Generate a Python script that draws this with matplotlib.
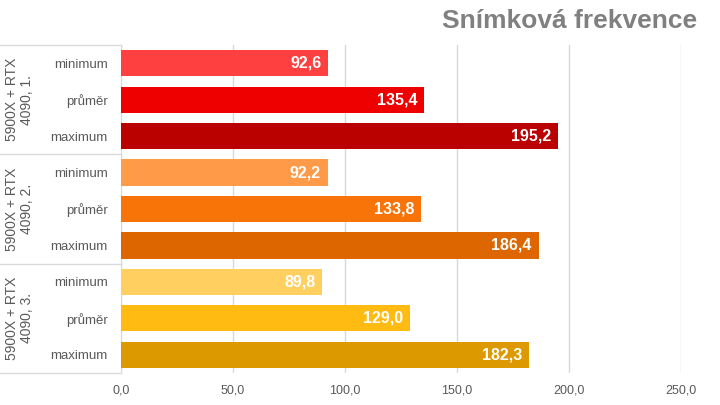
import matplotlib.pyplot as plt
from matplotlib.ticker import FuncFormatter

plt.rcParams['font.family'] = ['Liberation Sans', 'DejaVu Sans']

groups = ["5900X + RTX\n4090, 1.", "5900X + RTX\n4090, 2.", "5900X + RTX\n4090, 3."]
stats = ["minimum", "průměr", "maximum"]
values = [
    [92.6, 135.4, 195.2],
    [92.2, 133.8, 186.4],
    [89.8, 129.0, 182.3],
]
colors = [
    ["#FF4040", "#EE0000", "#BB0000"],
    ["#FF9A48", "#F87408", "#DD6600"],
    ["#FFD060", "#FFBB11", "#DD9900"],
]

fig = plt.figure(figsize=(7.2, 4.05), dpi=100)
ax = fig.add_axes([121 / 720, 32 / 405, 560 / 720, 328 / 405])

pos = 0
ypos, labels = [], []
for g, vals in enumerate(values):
    for s, v in enumerate(vals):
        ax.barh(pos, v, height=0.72, color=colors[g][s], zorder=3)
        ax.text(v - 3, pos, f"{v:.1f}".replace(".", ","), ha="right", va="center",
                color="white", fontsize=11.5, fontweight="bold", zorder=4)
        ypos.append(pos)
        labels.append(stats[s])
        pos += 1

ax.set_ylim(pos - 0.5, -0.5)
ax.set_xlim(0, 250)
ax.set_xticks([0, 50, 100, 150, 200, 250])
ax.xaxis.set_major_formatter(FuncFormatter(lambda x, p: f"{x:.1f}".replace(".", ",")))
ax.set_yticks(ypos)
ax.set_yticklabels(labels)
ax.tick_params(axis="y", length=0, pad=9.5, labelsize=9.5, labelcolor="#595959")
ax.tick_params(axis="x", length=0, pad=8, labelsize=9, labelcolor="#595959")
ax.grid(axis="x", color="#D9D9D9", lw=1, zorder=0)
for sp in ["top", "right", "bottom"]:
    ax.spines[sp].set_visible(False)
ax.spines["left"].set_color("#D9D9D9")

# group separators and labels
tr = ax.get_yaxis_transform()
for k in range(len(groups) + 1):
    y = k * 3 - 0.5
    ax.plot([-121 / 560, 0], [y, y], transform=tr, color="#D9D9D9", lw=1, clip_on=False)
for g, name in enumerate(groups):
    ax.text(-0.182, g * 3 + 1, name, transform=tr, rotation=90, ha="center", va="center",
            fontsize=10, color="#595959", multialignment="center", linespacing=1.1)

fig.text(697 / 720, 1 - 21 / 405, "Snímková frekvence", ha="right", va="center",
         fontsize=19, fontweight="bold", color="#808080")

fig.savefig("out.png", dpi=100)
